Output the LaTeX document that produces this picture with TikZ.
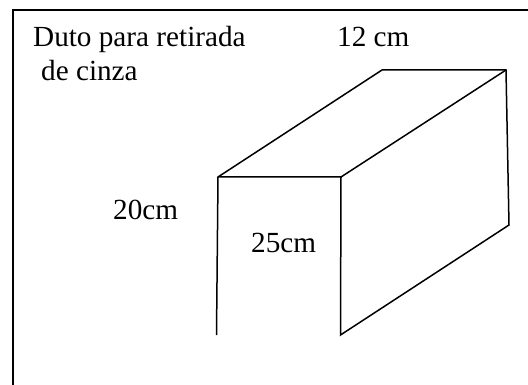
\documentclass[tikz,border=0pt]{standalone}
\usepackage{fontspec}
\setmainfont{Liberation Serif}
\tikzset{
    edge/.style={line width=1.5pt, black},
    label/.style={anchor=base west, inner sep=0pt, font=\fontsize{29.2}{34}\selectfont}
}

\begin{document}
\begin{tikzpicture}[x=1pt, y=-1pt]
            \useasboundingbox (0,0) rectangle (528,385);
            % Define corners of the duct
            \coordinate (a1) at (218,177);
            \coordinate (a2) at (216.5,335);
            \coordinate (b1) at (341,177);
            \coordinate (b2) at (340.5,335);
            \coordinate (c1) at (382,70);
            \coordinate (d1) at (506,70);
            \coordinate (d2) at (509,225);
            % Define corners of the frame
            \coordinate (f1) at (13,385);
            \coordinate (f2) at (13,10);
            \coordinate (f3) at (528,10);
            % Draw frame
            \draw[edge] (f1) -- (f2) -- (f3);
            % Draw edges
            \draw[edge] (a2) -- (a1) -- (b1) -- (b2) -- (d2) -- (d1) -- (c1) -- (a1);
            \draw[edge] (b1) -- (d1);
            % Add labels
            \node[label] (title1) at (33,47) {Duto para retirada};
            \node[label] (title2) at (41,81) {de cinza};
            \node[label] (top) at (337,47) {12 cm};
            \node[label] (height) at (113,219) {20cm};
            \node[label] (depth) at (251,253) {25cm};
          \end{tikzpicture}
\end{document}
